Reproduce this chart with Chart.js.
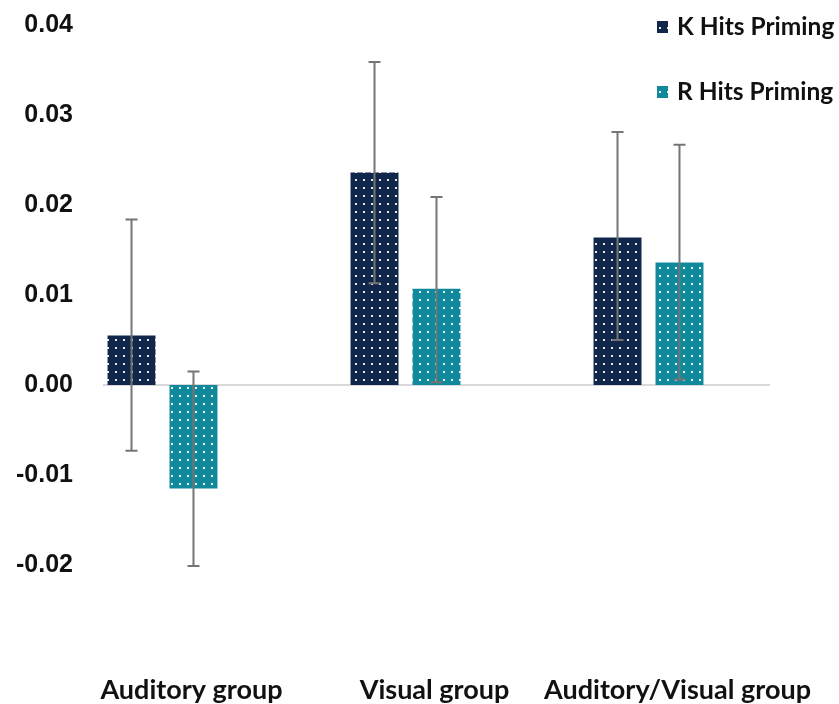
<!DOCTYPE html>
<html>
<head>
<meta charset="utf-8">
<script src="https://cdn.jsdelivr.net/npm/chart.js@4.4.1/dist/chart.umd.min.js"></script>
<style>
  html, body { margin: 0; padding: 0; background: #ffffff; }
  canvas { display: block; }
</style>
</head>
<body>
<canvas id="chart" width="839" height="704"></canvas>
<script>
// Groups along the x axis
const categories = ['Auditory group', 'Visual group', 'Auditory/Visual group'];

// Mean priming scores
const kHits = [0.0055, 0.0236, 0.0164];
const rHits = [-0.0115, 0.0107, 0.0136];

// Error bar ends (upper / lower)
const kUpper = [0.0184, 0.0359, 0.0281];
const kLower = [-0.0073, 0.0113, 0.0050];
const rUpper = [0.0015, 0.0209, 0.0267];
const rLower = [-0.0201, 0.0003, 0.0006];

// Labelled value-axis ticks
const yTicks = [-0.02, -0.01, 0.00, 0.01, 0.02, 0.03, 0.04];

const seriesNames = ['K Hits Priming', 'R Hits Priming'];

// White dotted fill over a solid colour
function dotted(color) {
  const tile = document.createElement('canvas');
  tile.width = 8; tile.height = 8;
  const t = tile.getContext('2d');
  t.fillStyle = color;
  t.fillRect(0, 0, 8, 8);
  t.fillStyle = 'rgba(255,255,255,0.9)';
  t.fillRect(3, 3, 2, 2);
  return document.getElementById('chart').getContext('2d').createPattern(tile, 'repeat');
}

const kFill = dotted('#10264a');
const rFill = dotted('#10899c');

const errorBars = {
  id: 'errorBars',
  afterDatasetsDraw(chart) {
    const ctx = chart.ctx;
    const y = chart.scales.y;
    const bounds = [[kUpper, kLower], [rUpper, rLower]];
    ctx.save();
    ctx.strokeStyle = '#757575';
    ctx.lineWidth = 2;
    chart.data.datasets.forEach((ds, di) => {
      const meta = chart.getDatasetMeta(di);
      meta.data.forEach((bar, i) => {
        const top = y.getPixelForValue(bounds[di][0][i]);
        const bot = y.getPixelForValue(bounds[di][1][i]);
        ctx.beginPath();
        ctx.moveTo(bar.x, top); ctx.lineTo(bar.x, bot);
        ctx.moveTo(bar.x - 6, top); ctx.lineTo(bar.x + 6, top);
        ctx.moveTo(bar.x - 6, bot); ctx.lineTo(bar.x + 6, bot);
        ctx.stroke();
      });
    });
    ctx.restore();
  }
};

const zeroLine = {
  id: 'zeroLine',
  beforeDatasetsDraw(chart) {
    const ctx = chart.ctx;
    const area = chart.chartArea;
    const y0 = chart.scales.y.getPixelForValue(0);
    ctx.save();
    ctx.strokeStyle = '#d9d9d9';
    ctx.lineWidth = 2;
    ctx.beginPath();
    ctx.moveTo(area.left + 62, y0);
    ctx.lineTo(area.right, y0);
    ctx.stroke();
    ctx.restore();
  }
};

const sideLegend = {
  id: 'sideLegend',
  afterDraw(chart) {
    const ctx = chart.ctx;
    ctx.save();
    ctx.font = 'bold 24.5px Lato, "DejaVu Sans", sans-serif';
    ctx.textBaseline = 'middle';
    ctx.textAlign = 'left';
    chart.data.datasets.forEach((ds, i) => {
      const cy = 27 + i * 65;
      ctx.fillStyle = ds.backgroundColor;
      ctx.fillRect(657, cy - 6, 11, 12);
      ctx.fillStyle = '#111111';
      ctx.fillText(ds.label, 677, cy);
    });
    ctx.restore();
  }
};

new Chart(document.getElementById('chart'), {
  type: 'bar',
  data: {
    labels: categories,
    datasets: [
      { label: seriesNames[0], data: kHits, backgroundColor: kFill, borderWidth: 0 },
      { label: seriesNames[1], data: rHits, backgroundColor: rFill, borderWidth: 0 }
    ]
  },
  options: {
    responsive: false,
    animation: false,
    categoryPercentage: 0.51,
    barPercentage: 0.774,
    layout: { padding: { top: 25, right: 69, left: 0, bottom: 0 } },
    plugins: {
      legend: { display: false },
      tooltip: { enabled: false }
    },
    scales: {
      x: {
        grid: { display: false, drawTicks: false },
        border: { display: false },
        ticks: {
          color: '#111111',
          font: { family: 'Lato, "DejaVu Sans", sans-serif', size: 27, weight: 'bold' },
          padding: 19,
          labelOffset: 29,
          maxRotation: 0,
          autoSkip: false
        },
        afterFit(scale) { scale.height = 49; }
      },
      y: {
        min: -0.03,
        max: 0.04,
        afterBuildTicks(scale) { scale.ticks = yTicks.map(v => ({ value: v })); },
        grid: { display: false, drawTicks: false },
        border: { display: false },
        ticks: {
          color: '#111111',
          font: { family: '"Liberation Sans", Arial, sans-serif', size: 25, weight: 'bold' },
          padding: -32,
          callback: v => v.toFixed(2)
        },
        afterFit(scale) {
          // narrow axis box; tick labels overhang into the plot's left margin
          scale.width = 41;
          scale._computeLabelArea = () => undefined;
        }
      }
    }
  },
  plugins: [zeroLine, errorBars, sideLegend]
});
</script>
</body>
</html>
